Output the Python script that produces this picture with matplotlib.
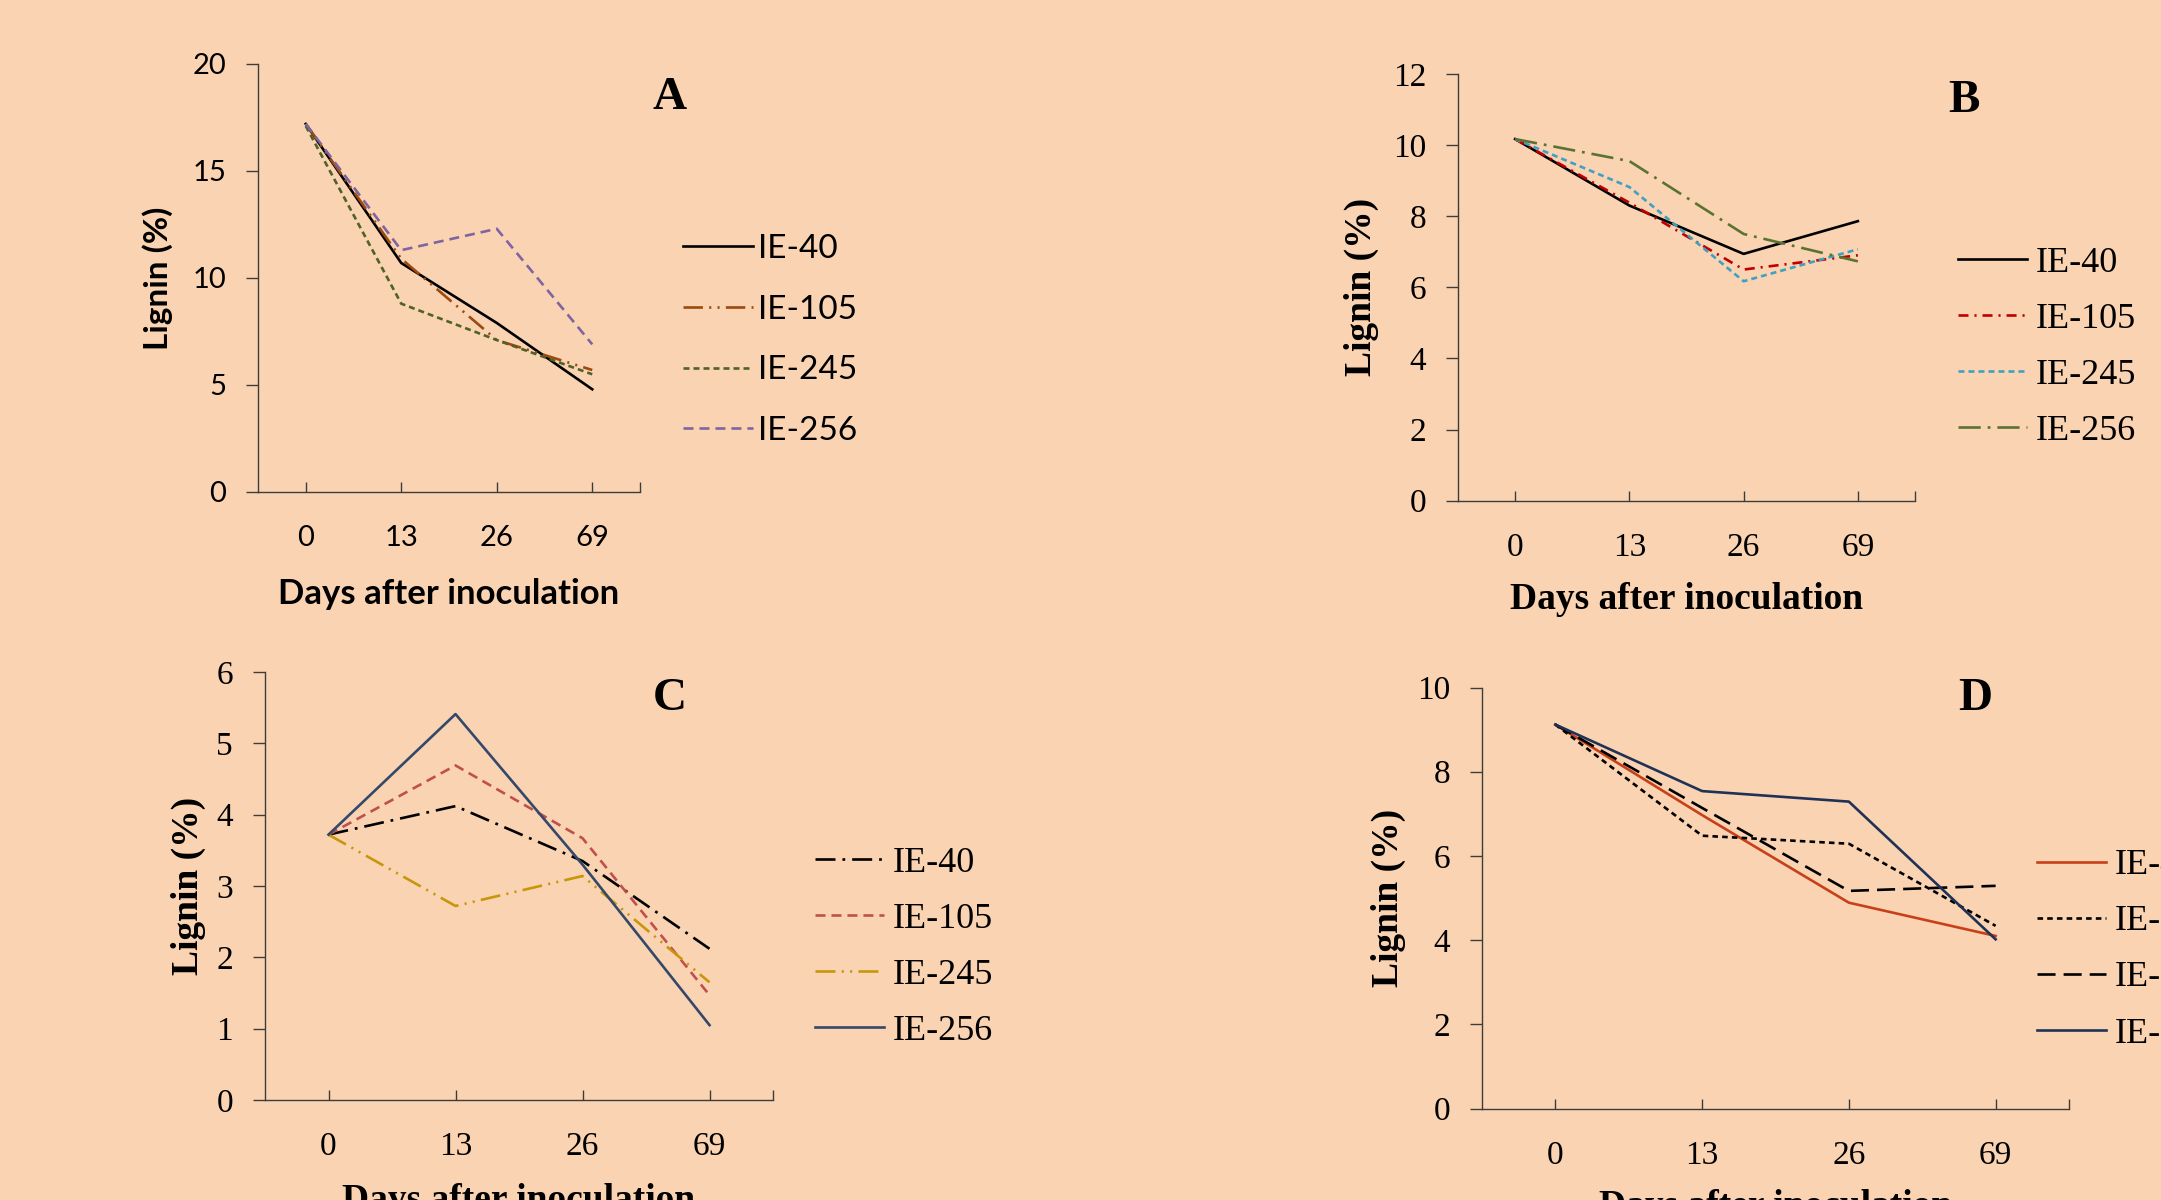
import matplotlib
matplotlib.use("Agg")
import matplotlib.pyplot as plt

plt.rcParams['lines.scale_dashes'] = False

bg = '#FAD4B2'
days = ['0', '13', '26', '69']
strains = ['IE-40', 'IE-105', 'IE-245', 'IE-256']

# lignin (%)
lig_a = [[17.2, 10.7, 7.9, 4.8],
         [17.2, 10.9, 7.1, 5.7],
         [17.1, 8.8, 7.1, 5.5],
         [17.2, 11.3, 12.3, 6.9]]
lig_b = [[10.17, 8.3, 6.94, 7.86],
         [10.17, 8.38, 6.5, 6.9],
         [10.17, 8.82, 6.17, 7.07],
         [10.17, 9.55, 7.5, 6.73]]
lig_c = [[3.72, 4.12, 3.35, 2.12],
         [3.72, 4.69, 3.67, 1.47],
         [3.72, 2.72, 3.14, 1.65],
         [3.72, 5.41, 3.3, 1.05]]
lig_d = [[9.12, 6.97, 4.89, 4.1],
         [9.12, 6.48, 6.29, 4.34],
         [9.12, 7.14, 5.17, 5.29],
         [9.12, 7.54, 7.29, 4.02]]

sans = 'Lato'
serif = 'Liberation Serif'

panels = [
    dict(data=lig_a, rect=[258, 64, 640, 492], ylim=20, yticks=[0, 5, 10, 15, 20], letter='A',
         colors=['black', '#9C4A10', '#4F6228', '#8064A2'],
         ls=['-', (0, (14, 4.5, 1.5, 4.5, 1.5, 4.5)), (0, (4.3, 2.9)), (0, (7.2, 4.3))],
         font=sans, tsize=21, lsize=24, xlsize=25, legsize=24, letterpos=(1.078, 0.921),
         ylab_x=-0.223, xlab_y=-0.2, leg=(1.113, 0.355), hl=2.1, lsp=0.92, xpad=24, htp=0.15),
    dict(data=lig_b, rect=[1458, 74, 1915, 500.6], ylim=12, yticks=[0, 2, 4, 6, 8, 10, 12], letter='B',
         colors=['black', '#C00000', '#40A0C0', '#5A7332'],
         ls=['-', (0, (7.2, 4.3, 1.5, 4.3)), (0, (4.3, 2.9)), (0, (16, 5, 2, 5))],
         font=serif, tsize=24, lsize=27, xlsize=27, legsize=26, letterpos=(1.107, 0.936),
         ylab_x=-0.173, xlab_y=-0.19, leg=(1.094, 0.36), hl=1.9, lsp=0.63, xpad=23, htp=0.25),
    dict(data=lig_c, rect=[265, 672, 773, 1100], ylim=6, yticks=[0, 1, 2, 3, 4, 5, 6], letter='C',
         colors=['black', '#C0504D', '#C8960C', '#34486A'],
         ls=[(0, (14.4, 5, 2, 5)), (0, (7.2, 4.3)), (0, (14.4, 4.5, 1.5, 4.5, 1.5, 4.5)), '-'],
         font=serif, tsize=24, lsize=27, xlsize=27, legsize=26, letterpos=(0.796, 0.937),
         ylab_x=-0.116, xlab_y=-0.195, leg=(1.083, 0.3575), hl=1.9, lsp=0.63, xpad=23, htp=0.25),
    dict(data=lig_d, rect=[1482, 687.5, 2069, 1108.6], ylim=10, yticks=[0, 2, 4, 6, 8, 10], letter='D',
         colors=['#C8401A', 'black', 'black', '#1F3255'],
         ls=['-', (0, (4, 3)), (0, (13, 5.8)), '-'],
         font=serif, tsize=24, lsize=27, xlsize=27, legsize=26, letterpos=(0.84, 0.972),
         ylab_x=-0.129, xlab_y=-0.19, leg=(0.9455, 0.377), hl=1.9, lsp=0.63, xpad=23, htp=0.25),
]

W, H = 2161, 1200
fig = plt.figure(figsize=(W / 100, H / 100), dpi=100, facecolor=bg)

for p in panels:
    x0, y0, x1, y1 = p['rect']
    ax = fig.add_axes([x0 / W, 1 - y1 / H, (x1 - x0) / W, (y1 - y0) / H], facecolor=bg)
    xs = range(len(days))
    for vals, name, c, ls in zip(p['data'], strains, p['colors'], p['ls']):
        ax.plot(xs, vals, color=c, linestyle=ls, lw=1.9, label=name)
    ax.set_xlim(-0.5, 3.5)
    ax.set_ylim(0, p['ylim'])
    ax.set_yticks(p['yticks'])
    ax.set_xticks([0, 1, 2, 3, 3.5])
    ax.set_xticklabels(days + [''])
    for s in ['top', 'right']:
        ax.spines[s].set_visible(False)
    for s in ['left', 'bottom']:
        ax.spines[s].set_color('#3C3C3C')
        ax.spines[s].set_linewidth(1.0)
    ax.tick_params(axis='y', direction='out', length=9, width=1.0, color='#3C3C3C', pad=14)
    ax.tick_params(axis='x', direction='in', length=7, width=1.0, color='#3C3C3C', pad=p['xpad'])
    for lab in ax.get_xticklabels() + ax.get_yticklabels():
        lab.set_fontfamily(p['font'])
        lab.set_fontsize(p['tsize'])
    ax.set_ylabel('Lignin (%)', fontfamily=p['font'], fontsize=p['lsize'], fontweight='bold')
    ax.yaxis.set_label_coords(p['ylab_x'], 0.5)
    ax.set_xlabel('Days after inoculation', fontfamily=p['font'], fontsize=p['xlsize'], fontweight='bold')
    ax.xaxis.set_label_coords(0.5, p['xlab_y'])
    ax.text(p['letterpos'][0], p['letterpos'][1], p['letter'], transform=ax.transAxes,
            fontfamily=serif, fontweight='bold', fontsize=34, ha='center', va='center')
    ax.legend(loc='center left', bbox_to_anchor=p['leg'], frameon=False, borderaxespad=0,
              borderpad=0, handlelength=p['hl'], handletextpad=p['htp'], labelspacing=p['lsp'],
              prop={'family': p['font'], 'size': p['legsize']})

fig.savefig('out.png', dpi=100, facecolor=bg)
